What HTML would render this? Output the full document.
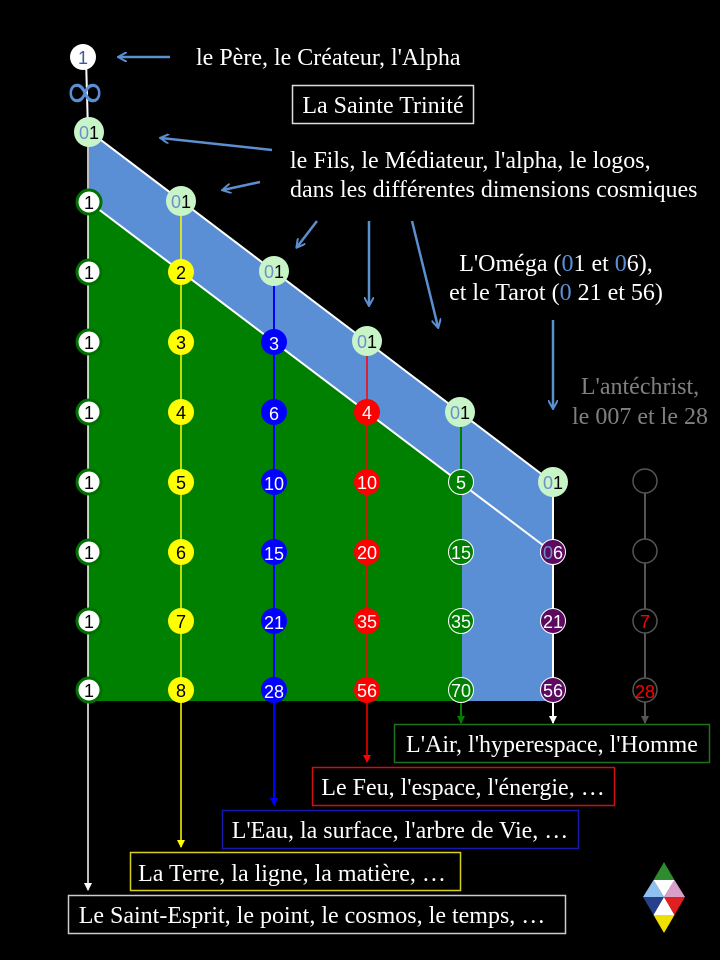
<!DOCTYPE html>
<html><head><meta charset="utf-8"><style>
html,body{margin:0;padding:0;background:#000;}
svg{display:block}
.s{font-family:"Liberation Serif",serif;font-size:24px;fill:#fff}
.n{font-family:"Liberation Sans","DejaVu Sans",sans-serif;font-size:18px;text-anchor:middle}
</style></head><body>
<svg width="720" height="960" viewBox="0 0 720 960" xmlns="http://www.w3.org/2000/svg">
<defs>
<marker id="ab" markerWidth="10" markerHeight="10" refX="8" refY="5" orient="auto" markerUnits="userSpaceOnUse"><path d="M0,0 L9,5 L0,10" fill="none" stroke="#5b8fd0" stroke-width="2"/></marker>
<marker id="aw" markerWidth="8" markerHeight="8" refX="7" refY="4" orient="auto" markerUnits="userSpaceOnUse"><path d="M0,0 L8,4 L0,8 z" fill="#fff"/></marker>
<marker id="ay" markerWidth="8" markerHeight="8" refX="7" refY="4" orient="auto" markerUnits="userSpaceOnUse"><path d="M0,0 L8,4 L0,8 z" fill="#ffff00"/></marker>
<marker id="abl" markerWidth="8" markerHeight="8" refX="7" refY="4" orient="auto" markerUnits="userSpaceOnUse"><path d="M0,0 L8,4 L0,8 z" fill="#0000ff"/></marker>
<marker id="ar" markerWidth="8" markerHeight="8" refX="7" refY="4" orient="auto" markerUnits="userSpaceOnUse"><path d="M0,0 L8,4 L0,8 z" fill="#ff0000"/></marker>
<marker id="ag" markerWidth="8" markerHeight="8" refX="7" refY="4" orient="auto" markerUnits="userSpaceOnUse"><path d="M0,0 L8,4 L0,8 z" fill="#008000"/></marker>
<marker id="agr" markerWidth="8" markerHeight="8" refX="7" refY="4" orient="auto" markerUnits="userSpaceOnUse"><path d="M0,0 L8,4 L0,8 z" fill="#555"/></marker>
</defs>
<polygon points="89,131 552,482 553,701 89,701" fill="#5b8fd5"/>
<polygon points="88,202 462,484 462,701 88,701" fill="#008000"/>
<line x1="89" y1="131" x2="552" y2="482" stroke="#fff" stroke-width="2"/>
<line x1="89" y1="202" x2="552" y2="552" stroke="#fff" stroke-width="2"/>
<line x1="86" y1="58" x2="88" y2="131" stroke="#fff" stroke-width="2"/>
<line x1="88" y1="131" x2="88" y2="890" stroke="#fff" stroke-width="1.5" marker-end="url(#aw)"/>
<line x1="181" y1="201" x2="181" y2="847" stroke="#ffff00" stroke-width="1.5" marker-end="url(#ay)"/>
<line x1="274" y1="271" x2="274" y2="805" stroke="#0000ff" stroke-width="2" marker-end="url(#abl)"/>
<line x1="367" y1="341" x2="367" y2="762" stroke="#ff0000" stroke-width="1.5" marker-end="url(#ar)"/>
<line x1="461" y1="412" x2="461" y2="723" stroke="#008000" stroke-width="2" marker-end="url(#ag)"/>
<line x1="553" y1="482" x2="553" y2="723" stroke="#fff" stroke-width="2" marker-end="url(#aw)"/>
<line x1="645" y1="482" x2="645" y2="723" stroke="#555" stroke-width="2" marker-end="url(#agr)"/>
<circle cx="83" cy="57" r="13" fill="#fff"/>
<text x="83" y="64" class="n" fill="#3a5a9a">1</text>
<text x="85" y="108" font-family="DejaVu Sans,sans-serif" font-size="50" fill="#5b8fd5" text-anchor="middle">∞</text>
<g>
<circle cx="89" cy="132" r="15" fill="#c8f5c8"/><text x="89" y="139" class="n"><tspan fill="#7090c8">0</tspan><tspan fill="#000">1</tspan></text>
<circle cx="181" cy="201" r="15" fill="#c8f5c8"/><text x="181" y="208" class="n"><tspan fill="#7090c8">0</tspan><tspan fill="#000">1</tspan></text>
<circle cx="274" cy="271" r="15" fill="#c8f5c8"/><text x="274" y="278" class="n"><tspan fill="#7090c8">0</tspan><tspan fill="#000">1</tspan></text>
<circle cx="367" cy="341" r="15" fill="#c8f5c8"/><text x="367" y="348" class="n"><tspan fill="#7090c8">0</tspan><tspan fill="#000">1</tspan></text>
<circle cx="460" cy="412" r="15" fill="#c8f5c8"/><text x="460" y="419" class="n"><tspan fill="#7090c8">0</tspan><tspan fill="#000">1</tspan></text>
<circle cx="553" cy="482" r="15" fill="#c8f5c8"/><text x="553" y="489" class="n"><tspan fill="#7090c8">0</tspan><tspan fill="#000">1</tspan></text>
</g>
<g fill="#fff" stroke="#007000" stroke-width="3">
<circle cx="89" cy="202" r="12"/><circle cx="89" cy="272" r="12"/><circle cx="89" cy="342" r="12"/><circle cx="89" cy="412" r="12"/><circle cx="89" cy="482" r="12"/><circle cx="89" cy="552" r="12"/><circle cx="89" cy="621" r="12"/><circle cx="89" cy="690" r="12"/>
</g>
<g fill="#000">
<text x="89" y="209" class="n">1</text><text x="89" y="279" class="n">1</text><text x="89" y="349" class="n">1</text><text x="89" y="419" class="n">1</text><text x="89" y="489" class="n">1</text><text x="89" y="559" class="n">1</text><text x="89" y="628" class="n">1</text><text x="89" y="697" class="n">1</text>
</g>
<g fill="#ffff00">
<circle cx="181" cy="272" r="13"/><circle cx="181" cy="342" r="13"/><circle cx="181" cy="412" r="13"/><circle cx="181" cy="482" r="13"/><circle cx="181" cy="552" r="13"/><circle cx="181" cy="621" r="13"/><circle cx="181" cy="690" r="13"/>
</g>
<g fill="#000">
<text x="181" y="279" class="n">2</text><text x="181" y="349" class="n">3</text><text x="181" y="419" class="n">4</text><text x="181" y="489" class="n">5</text><text x="181" y="559" class="n">6</text><text x="181" y="628" class="n">7</text><text x="181" y="697" class="n">8</text>
</g>
<g fill="#0000ff">
<circle cx="274" cy="342" r="13"/><circle cx="274" cy="412" r="13"/><circle cx="274" cy="482" r="13"/><circle cx="274" cy="552" r="13"/><circle cx="274" cy="621" r="13"/><circle cx="274" cy="690" r="13"/>
</g>
<text x="274" y="350" class="n" fill="#fff">3</text><text x="274" y="420" class="n" fill="#fff">6</text><text x="274" y="490" class="n" fill="#fff">10</text><text x="274" y="560" class="n" fill="#fff">15</text><text x="274" y="629" class="n" fill="#fff">21</text><text x="274" y="698" class="n" fill="#fff">28</text>
<g fill="#ff0000">
<circle cx="367" cy="412" r="13"/><circle cx="367" cy="482" r="13"/><circle cx="367" cy="552" r="13"/><circle cx="367" cy="621" r="13"/><circle cx="367" cy="690" r="13"/>
</g>
<text x="367" y="419" class="n" fill="#fff">4</text><text x="367" y="489" class="n" fill="#fff">10</text><text x="367" y="559" class="n" fill="#fff">20</text><text x="367" y="628" class="n" fill="#fff">35</text><text x="367" y="697" class="n" fill="#fff">56</text>
<g fill="#008000" stroke="#fff" stroke-width="1">
<circle cx="461" cy="482" r="12.5"/><circle cx="461" cy="552" r="12.5"/><circle cx="461" cy="621" r="12.5"/><circle cx="461" cy="690" r="12.5"/>
</g>
<text x="461" y="489" class="n" fill="#fff">5</text><text x="461" y="559" class="n" fill="#fff">15</text><text x="461" y="628" class="n" fill="#fff">35</text><text x="461" y="697" class="n" fill="#fff">70</text>
<g fill="#5c0a60" stroke="#fff" stroke-width="1">
<circle cx="553" cy="552" r="12.5"/><circle cx="553" cy="621" r="12.5"/><circle cx="553" cy="690" r="12.5"/>
</g>
<text x="553" y="559" class="n"><tspan fill="#7090c8">0</tspan><tspan fill="#fff">6</tspan></text><text x="553" y="628" class="n" fill="#fff">21</text><text x="553" y="697" class="n" fill="#fff">56</text>
<g fill="#000" stroke="#555" stroke-width="1.5">
<circle cx="645" cy="481" r="12"/><circle cx="645" cy="551" r="12"/><circle cx="645" cy="621" r="12"/><circle cx="645" cy="690" r="12"/>
</g>
<text x="645" y="628" class="n" fill="#ff0000">7</text><text x="645" y="698" class="n" fill="#ff0000">28</text>
<g stroke="#5b8fd0" stroke-width="2.5" fill="none">
<line x1="170" y1="57" x2="119" y2="57" marker-end="url(#ab)"/>
<line x1="272" y1="150" x2="161" y2="138" marker-end="url(#ab)"/>
<line x1="260" y1="182" x2="223" y2="190" marker-end="url(#ab)"/>
<line x1="317" y1="221" x2="297" y2="247" marker-end="url(#ab)"/>
<line x1="369" y1="221" x2="369" y2="305" marker-end="url(#ab)"/>
<line x1="412" y1="221" x2="438" y2="327" marker-end="url(#ab)"/>
<line x1="553" y1="320" x2="553" y2="408" marker-end="url(#ab)"/>
</g>
<text x="196" y="65" class="s">le Père, le Créateur, l'Alpha</text>
<rect x="292.5" y="85.5" width="181" height="38" fill="none" stroke="#ddd" stroke-width="1.5"/>
<text x="383" y="113" class="s" text-anchor="middle">La Sainte Trinité</text>
<text x="290" y="168" class="s">le Fils, le Médiateur, l'alpha, le logos,</text>
<text x="290" y="197" class="s">dans les différentes dimensions cosmiques</text>
<text x="556" y="271" class="s" text-anchor="middle">L'Oméga (<tspan fill="#5b8fd5">0</tspan>1 et <tspan fill="#5b8fd5">0</tspan>6),</text>
<text x="556" y="300" class="s" text-anchor="middle">et le Tarot (<tspan fill="#5b8fd5">0</tspan> 21 et 56)</text>
<text x="640" y="394" class="s" text-anchor="middle" style="fill:#808080">L'antéchrist,</text>
<text x="640" y="424" class="s" text-anchor="middle" style="fill:#808080">le 007 et le 28</text>
<rect x="394.5" y="724.5" width="315" height="38" fill="#000" stroke="#1f6f1f" stroke-width="1.5"/>
<text x="552" y="752" class="s" text-anchor="middle">L'Air, l'hyperespace, l'Homme</text>
<rect x="312.5" y="767.5" width="302" height="38" fill="#000" stroke="#d01010" stroke-width="1.5"/>
<text x="463" y="795" class="s" text-anchor="middle">Le Feu, l'espace, l'énergie, …</text>
<rect x="222.5" y="810.5" width="356" height="38" fill="#000" stroke="#1818b0" stroke-width="1.5"/>
<text x="400" y="838" class="s" text-anchor="middle">L'Eau, la surface, l'arbre de Vie, …</text>
<rect x="130.5" y="852.5" width="330" height="38" fill="#000" stroke="#d8d020" stroke-width="1.5"/>
<text x="292" y="881" class="s" text-anchor="middle">La Terre, la ligne, la matière, …</text>
<rect x="68.5" y="895.5" width="497" height="38" fill="#000" stroke="#ccc" stroke-width="1.5"/>
<text x="312" y="923" class="s" text-anchor="middle">Le Saint-Esprit, le point, le cosmos, le temps, …</text>
<polygon points="664,862 653.5,880 674.5,880" fill="#2e8b2e"/>
<polygon points="653.5,880 674.5,880 664,897" fill="#fff"/>
<polygon points="653.5,880 643,897 664,897" fill="#8ec0f0"/>
<polygon points="674.5,880 685,897 664,897" fill="#d8a0c8"/>
<polygon points="643,897 664,897 653.5,915" fill="#27408b"/>
<polygon points="664,897 653.5,915 674.5,915" fill="#fff"/>
<polygon points="664,897 685,897 674.5,915" fill="#e02020"/>
<polygon points="653.5,915 674.5,915 664,933" fill="#f0e000"/>
</svg>
</body></html>
